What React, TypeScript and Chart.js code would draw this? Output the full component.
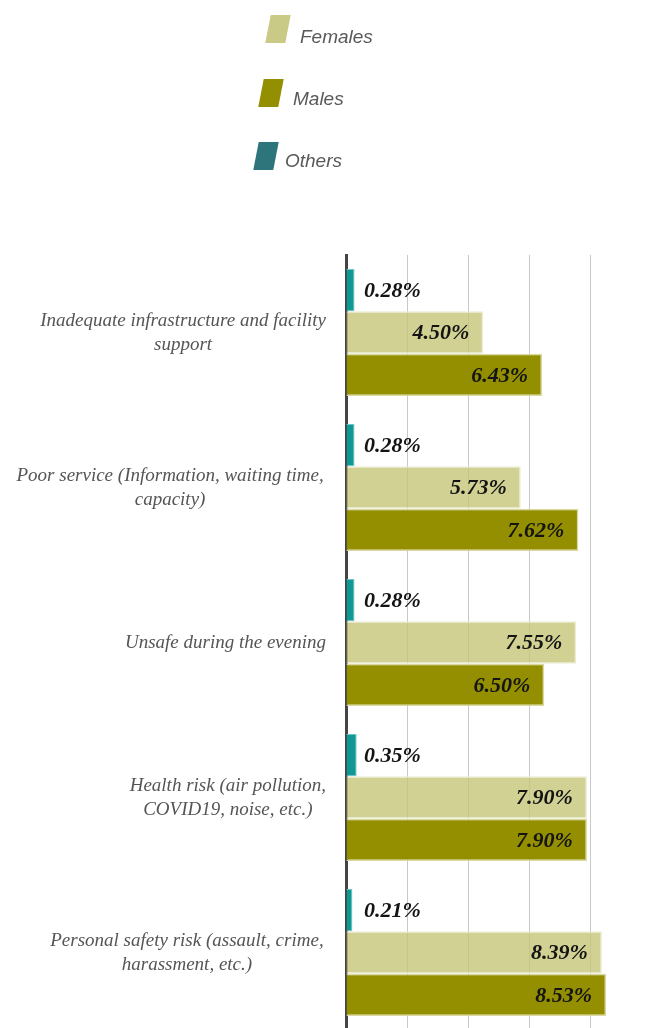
import React, { useEffect, useRef } from "react";
import { Chart, registerables } from "chart.js";

Chart.register(...registerables);

const categoryLines: string[][] = [
  ["Inadequate infrastructure and facility", "support"],
  ["Poor service (Information, waiting time, ", "capacity)"],
  ["Unsafe during the evening"],
  ["Health risk (air pollution,", "COVID19, noise, etc.)"],
  ["Personal safety risk (assault, crime, ", "harassment, etc.)"],
];
const categories = categoryLines.map((l) => l.join(" ").trim());

const othersValues = [0.28, 0.28, 0.28, 0.35, 0.21];
const femalesValues = [4.5, 5.73, 7.55, 7.9, 8.39];
const malesValues = [6.43, 7.62, 6.5, 7.9, 8.53];

const seriesNames = ["Others", "Females", "Males"];
const legendOrder = ["Females", "Males", "Others"];
const legendColors: Record<string, string> = {
  Females: "#c9ca85",
  Males: "#938f00",
  Others: "#2d757a",
};

const valueLabelPlugin = {
  id: "valueLabels",
  afterDatasetsDraw(chart: any) {
    const ctx = chart.ctx;
    const x0 = chart.scales.x.getPixelForValue(0);
    ctx.save();
    ctx.font = 'italic bold 22px "Liberation Serif"';
    ctx.fillStyle = "#141414";
    ctx.textBaseline = "middle";
    chart.data.datasets.forEach((ds: any, di: number) => {
      const meta = chart.getDatasetMeta(di);
      meta.data.forEach((el: any, i: number) => {
        const txt = Number(ds.data[i]).toFixed(2) + "%";
        if (di === 0) {
          ctx.textAlign = "left";
          ctx.fillText(txt, x0 + 18, el.y + 1);
        } else {
          ctx.textAlign = "right";
          ctx.fillText(txt, el.x - 14, el.y + 1);
        }
      });
    });
    ctx.restore();
  },
};

const categoryLabelPlugin = {
  id: "categoryLabels",
  afterDraw(chart: any) {
    const ctx = chart.ctx;
    const y = chart.scales.y;
    ctx.save();
    ctx.font = 'italic 19px "Liberation Serif"';
    ctx.fillStyle = "#555555";
    ctx.textBaseline = "middle";
    ctx.textAlign = "center";
    const rightEdge = 326;
    const lh = 24;
    categoryLines.forEach((lines, i) => {
      const cy = y.getPixelForValue(i);
      const widest = Math.max(...lines.map((l) => ctx.measureText(l).width));
      const cx = rightEdge - widest / 2;
      const startY = cy - ((lines.length - 1) * lh) / 2;
      lines.forEach((line, k) => {
        ctx.fillText(line.trim(), cx, startY + k * lh);
      });
    });
    ctx.restore();
  },
};

export default function App() {
  const canvasRef = useRef<HTMLCanvasElement | null>(null);

  useEffect(() => {
    if (!canvasRef.current) return;
    const chart = new Chart(canvasRef.current, {
      type: "bar",
      data: {
        labels: categories,
        datasets: [
          {
            label: seriesNames[0],
            data: othersValues,
            backgroundColor: "#0f9894",
            borderColor: "#6cc6c2",
            borderWidth: 1,
          },
          {
            label: seriesNames[1],
            data: femalesValues,
            backgroundColor: "rgba(196,198,120,0.8)",
            borderColor: "#ececd2",
            borderWidth: 1.5,
          },
          {
            label: seriesNames[2],
            data: malesValues,
            backgroundColor: "#938f00",
            borderColor: "#dad89e",
            borderWidth: 1.5,
          },
        ],
      },
      options: {
        indexAxis: "y",
        responsive: false,
        animation: false,
        layout: { padding: { top: 255, bottom: 10, left: 0, right: 25.5 } },
        datasets: {
          bar: { barPercentage: 1, categoryPercentage: 0.82 },
        },
        scales: {
          x: {
            min: 0,
            max: 9,
            ticks: { display: false, stepSize: 2, includeBounds: false },
            grid: { color: "#c8c8c8", lineWidth: 1, drawTicks: false },
            border: { display: false },
          },
          y: {
            ticks: { display: false },
            grid: { display: false, drawTicks: false },
            border: { display: true, color: "#444444", width: 3 },
            afterFit(scale: any) {
              scale.width = 346;
            },
          },
        },
        plugins: {
          legend: { display: false },
          tooltip: { enabled: false },
        },
      },
      plugins: [valueLabelPlugin, categoryLabelPlugin],
    });
    return () => chart.destroy();
  }, []);

  const legendPos: Record<string, { box: number; text: number; top: number; baseline: number }> = {
    Females: { box: 265, text: 300, top: 15, baseline: 43 },
    Males: { box: 258, text: 293, top: 79, baseline: 105 },
    Others: { box: 253, text: 285, top: 142, baseline: 167 },
  };

  return (
    <div
      style={{
        position: "fixed",
        left: 0,
        top: 0,
        width: 646,
        height: 1028,
        overflow: "hidden",
        background: "#fff",
      }}
    >
      <canvas ref={canvasRef} width={646} height={1040} style={{ display: "block" }} />
      {legendOrder.map((name) => {
        const p = legendPos[name];
        return (
          <React.Fragment key={name}>
            <div
              style={{
                position: "absolute",
                left: p.box + 3,
                top: p.top,
                width: 20,
                height: 28,
                background: legendColors[name],
                transform: "skewX(-11deg)",
              }}
            />
            <div
              style={{
                position: "absolute",
                left: p.text,
                top: p.baseline - 16,
                fontFamily: '"Liberation Sans", Arial, sans-serif',
                fontStyle: "italic",
                fontSize: 19,
                lineHeight: "19px",
                color: "#595959",
                whiteSpace: "nowrap",
              }}
            >
              {name}
            </div>
          </React.Fragment>
        );
      })}
    </div>
  );
}
